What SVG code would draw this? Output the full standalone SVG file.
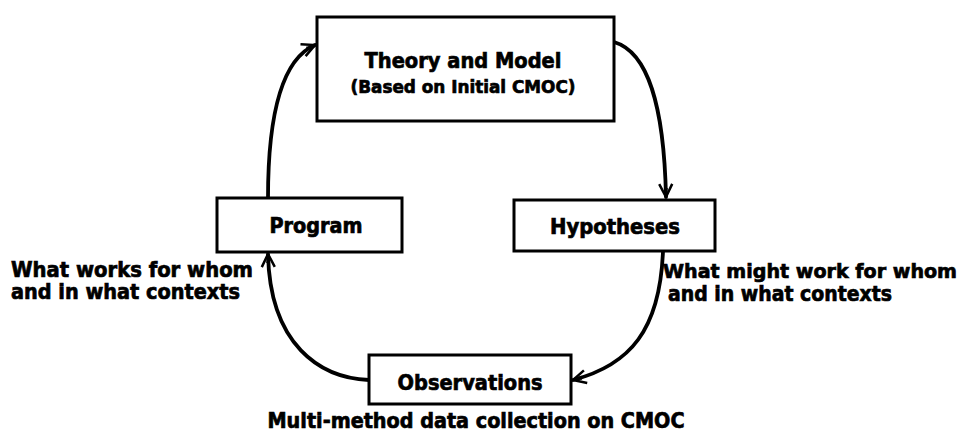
<svg xmlns="http://www.w3.org/2000/svg" width="967" height="434" viewBox="0 0 967 434">
<style>
text{font-family:"DejaVu Sans","Liberation Sans",sans-serif;font-weight:bold;font-size:20.5px;fill:#000;stroke:#000;stroke-width:0.7px}
.c{text-anchor:middle}
.box{fill:#fff;stroke:#000;stroke-width:3}
.con{fill:none;stroke:#000;stroke-width:3.8;stroke-linecap:round}
</style>
<defs>
<marker id="arr" markerUnits="userSpaceOnUse" markerWidth="16" markerHeight="16" viewBox="0 0 16 16" refX="15" refY="8" orient="auto">
<path d="M2,1.5 L15,8 L2,14.5" fill="none" stroke="#000" stroke-width="2.5" stroke-linejoin="miter"/>
<path d="M6,6 L15,8 L6,10 Z" fill="#000"/>
</marker>
</defs>
<rect width="967" height="434" fill="#fff"/>
<g id="connectors">
<path class="con" d="M268,198 C268,120 280,60 315,45" marker-end="url(#arr)"/>
<path class="con" d="M614,42 C648,52 664,105 666,197" marker-end="url(#arr)"/>
<path class="con" d="M663,251 C660,330 630,365 573,380" marker-end="url(#arr)"/>
<path class="con" d="M369,380 C320,378 270,345 268,254" marker-end="url(#arr)"/>
</g>
<g id="theory">
<rect class="box" x="317" y="17" width="297" height="104"/>
<text class="c" x="463" y="68" textLength="197" lengthAdjust="spacingAndGlyphs">Theory and Model</text>
<text class="c" x="463" y="93" style="font-size:17.5px" textLength="225" lengthAdjust="spacingAndGlyphs">(Based on Initial CMOC)</text>
</g>
<g id="program">
<rect class="box" x="217" y="198" width="185" height="54"/>
<text class="c" x="316" y="233" textLength="93" lengthAdjust="spacingAndGlyphs">Program</text>
<text x="11" y="277" textLength="242" lengthAdjust="spacingAndGlyphs">What works for whom</text>
<text x="11" y="299" textLength="229" lengthAdjust="spacingAndGlyphs">and in what contexts</text>
</g>
<g id="hypotheses">
<rect class="box" x="514" y="200" width="201" height="51"/>
<text class="c" x="615" y="234" textLength="130" lengthAdjust="spacingAndGlyphs">Hypotheses</text>
<text x="663" y="278" style="font-size:19.3px" textLength="294" lengthAdjust="spacingAndGlyphs">What might work for whom</text>
<text x="668" y="301" textLength="224" lengthAdjust="spacingAndGlyphs">and in what contexts</text>
</g>
<g id="observations">
<rect class="box" x="369" y="355" width="202" height="49"/>
<text class="c" x="470" y="390" textLength="145" lengthAdjust="spacingAndGlyphs">Observations</text>
<text class="c" x="476" y="428" textLength="417" lengthAdjust="spacingAndGlyphs">Multi-method data collection on CMOC</text>
</g>
</svg>
